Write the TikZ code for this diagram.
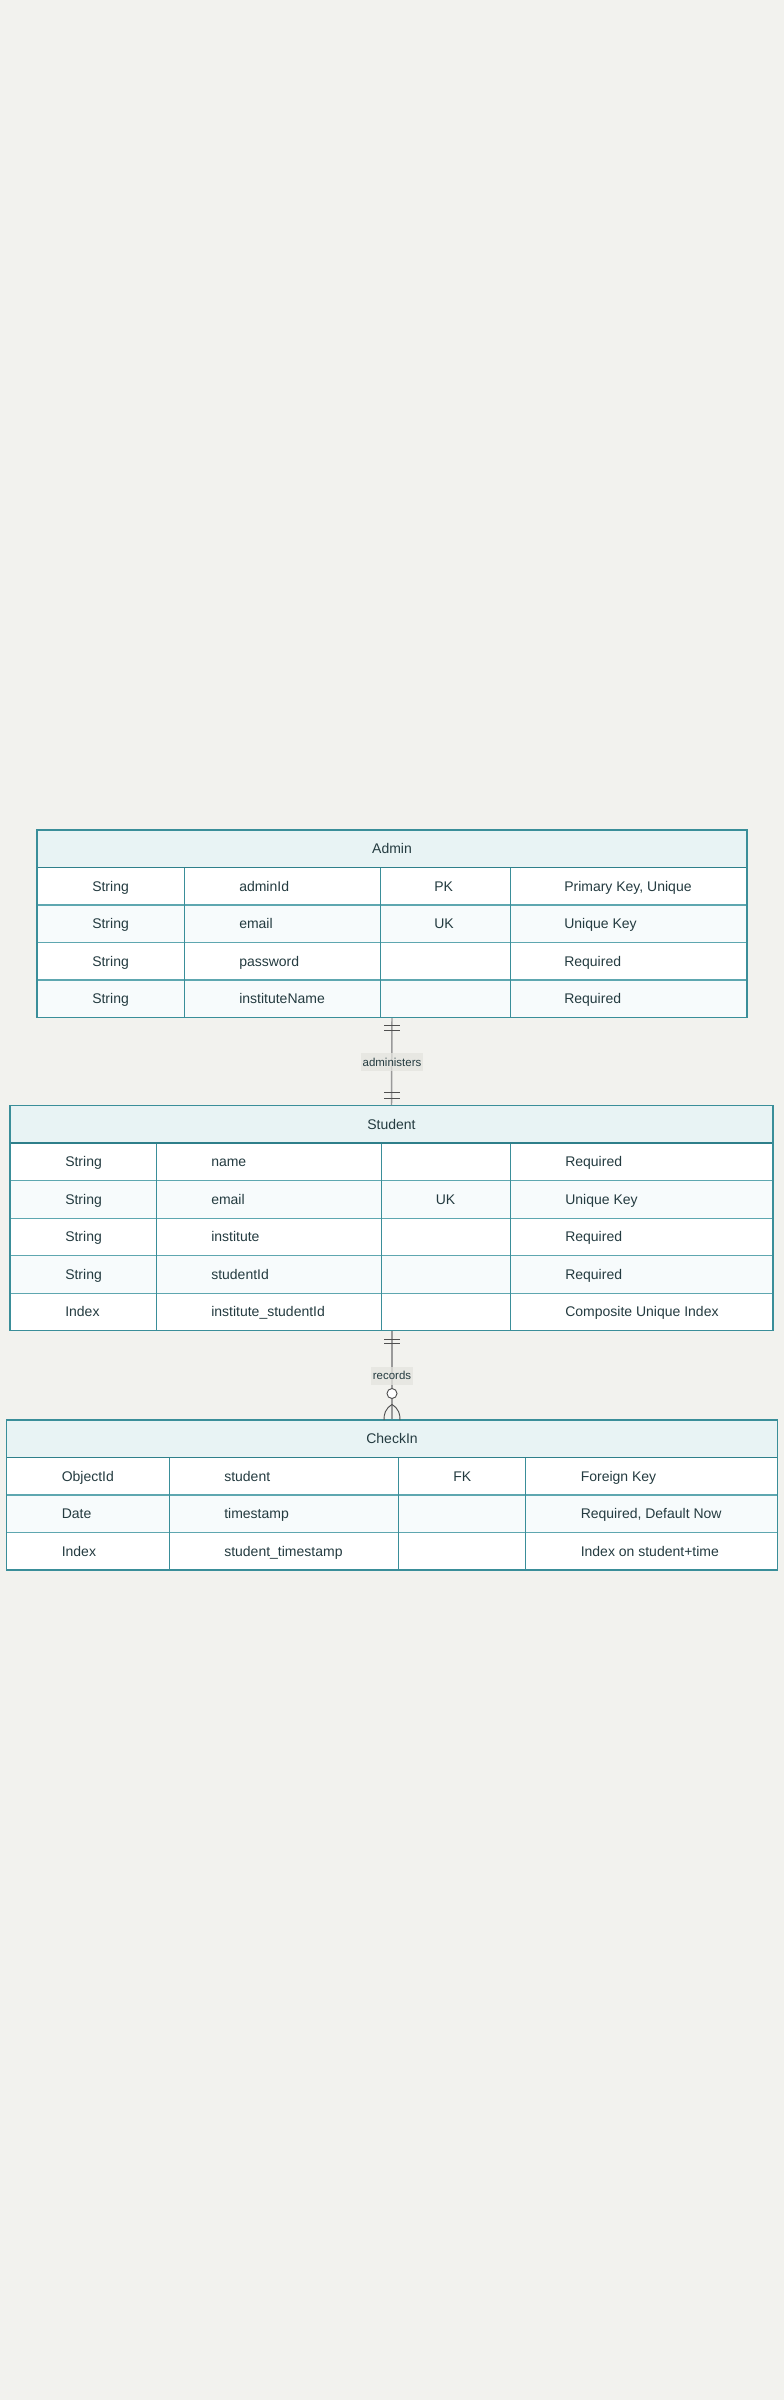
\documentclass[tikz,border=0pt]{standalone}
\usepackage{fontspec}
\setmainfont{Liberation Sans}
\usetikzlibrary{fit,calc}
\definecolor{bg}{HTML}{F2F2EE}
\definecolor{hdr}{HTML}{E8F3F4}
\definecolor{alt}{HTML}{F7FBFC}
\definecolor{edge}{HTML}{3A8E99}
\definecolor{hdredge}{HTML}{2E7F8A}
\definecolor{rowedge}{HTML}{5EA7B0}
\definecolor{txt}{HTML}{243B40}
\definecolor{conn}{HTML}{9A9A9A}
\definecolor{markc}{HTML}{505050}
\definecolor{lblbg}{HTML}{E4E4DF}
\begin{document}
\begin{tikzpicture}[x=0.75pt,y=-0.75pt,
  cell/.style={font=\fontsize{10.5pt}{12pt}\selectfont, text=txt, anchor=west, inner sep=0pt, text height=7.5pt, text depth=0pt},
  title/.style={font=\fontsize{10.5pt}{12pt}\selectfont, text=txt, anchor=center, inner sep=0pt, text height=7.5pt, text depth=0pt},
  tblbox/.style={draw=edge, line width=0.9pt, inner sep=0pt},
  hdrline/.style={draw=hdredge, line width=1.4pt},
  rowline/.style={draw=rowedge, line width=0.8pt},
  colline/.style={draw=edge, line width=0.75pt},
  connline/.style={draw=conn, line width=1.1pt},
  barmark/.style={draw=markc, line width=0.7pt},
  lbl/.style={font=\fontsize{8.6pt}{10pt}\selectfont, text=txt, fill=lblbg, fill opacity=0.75, text opacity=1, inner xsep=1.5pt, inner ysep=0pt, text height=6.2pt, text depth=0pt, minimum height=13.7pt}
]
\useasboundingbox (0,0) rectangle (784,2400);
\fill[bg] (0,0) rectangle (784,2400);

% ---------------- Admin ----------------
\fill[white] (37,830) rectangle (747,1017.5);
\fill[hdr] (37,830) rectangle (747,867.5);
\fill[alt] (37,905) rectangle (747,942.5);
\fill[alt] (37,980) rectangle (747,1017.5);
\foreach \yy in {905,942.5,980} \draw[rowline] (37,\yy) -- (747,\yy);
\foreach \xx in {184,380,510} \draw[colline] (\xx,867.5) -- (\xx,1017.5);
\draw[hdrline] (37,867.5) -- (747,867.5);
\node[tblbox, fit={(37,830)(747,1017.5)}] (admin) {};
\node[title] (admint) at (392,848.75) {Admin};
\node[cell] (a11) at (92,886.25) {String};
\node[cell] (a12) at (239,886.25) {adminId};
\node[cell] (a13) at (434,886.25) {PK};
\node[cell] (a14) at (564,886.25) {Primary Key, Unique};
\node[cell] (a21) at (92,923.75) {String};
\node[cell] (a22) at (239,923.75) {email};
\node[cell] (a23) at (434,923.75) {UK};
\node[cell] (a24) at (564,923.75) {Unique Key};
\node[cell] (a31) at (92,961.25) {String};
\node[cell] (a32) at (239,961.25) {password};
\node[cell] (a34) at (564,961.25) {Required};
\node[cell] (a41) at (92,998.75) {String};
\node[cell] (a42) at (239,998.75) {instituteName};
\node[cell] (a44) at (564,998.75) {Required};

% ---------------- Student ----------------
\fill[white] (10,1105.7) rectangle (773,1330.7);
\fill[hdr] (10,1105.7) rectangle (773,1143.2);
\fill[alt] (10,1180.7) rectangle (773,1218.2);
\fill[alt] (10,1255.7) rectangle (773,1293.2);
\foreach \yy in {1180.7,1218.2,1255.7,1293.2} \draw[rowline] (10,\yy) -- (773,\yy);
\foreach \xx in {156,381,510} \draw[colline] (\xx,1143.2) -- (\xx,1330.7);
\draw[hdrline] (10,1143.2) -- (773,1143.2);
\node[tblbox, fit={(10,1105.7)(773,1330.7)}] (student) {};
\node[title] (studentt) at (391.5,1124.45) {Student};
\node[cell] (s11) at (65,1161.95) {String};
\node[cell] (s12) at (211,1161.95) {name};
\node[cell] (s14) at (565,1161.95) {Required};
\node[cell] (s21) at (65,1199.45) {String};
\node[cell] (s22) at (211,1199.45) {email};
\node[cell] (s23) at (435.5,1199.45) {UK};
\node[cell] (s24) at (565,1199.45) {Unique Key};
\node[cell] (s31) at (65,1236.95) {String};
\node[cell] (s32) at (211,1236.95) {institute};
\node[cell] (s34) at (565,1236.95) {Required};
\node[cell] (s41) at (65,1274.45) {String};
\node[cell] (s42) at (211,1274.45) {studentId};
\node[cell] (s44) at (565,1274.45) {Required};
\node[cell] (s51) at (65,1311.95) {Index};
\node[cell] (s52) at (211,1311.95) {institute\_studentId};
\node[cell] (s54) at (565,1311.95) {Composite Unique Index};

% ---------------- CheckIn ----------------
\fill[white] (6.5,1420) rectangle (777.5,1570);
\fill[hdr] (6.5,1420) rectangle (777.5,1457.5);
\fill[alt] (6.5,1495) rectangle (777.5,1532.5);
\foreach \yy in {1495,1532.5} \draw[rowline] (6.5,\yy) -- (777.5,\yy);
\foreach \xx in {169,398,525.5} \draw[colline] (\xx,1457.5) -- (\xx,1570);
\draw[hdrline] (6.5,1457.5) -- (777.5,1457.5);
\node[tblbox, fit={(6.5,1420)(777.5,1570)}] (checkin) {};
\node[title] (checkint) at (392,1438.75) {CheckIn};
\node[cell] (c11) at (61.5,1476.25) {ObjectId};
\node[cell] (c12) at (224,1476.25) {student};
\node[cell] (c13) at (453,1476.25) {FK};
\node[cell] (c14) at (580.5,1476.25) {Foreign Key};
\node[cell] (c21) at (61.5,1513.75) {Date};
\node[cell] (c22) at (224,1513.75) {timestamp};
\node[cell] (c24) at (580.5,1513.75) {Required, Default Now};
\node[cell] (c31) at (61.5,1551.25) {Index};
\node[cell] (c32) at (224,1551.25) {student\_timestamp};
\node[cell] (c34) at (580.5,1551.25) {Index on student+time};

% ---------------- administers ----------------
\coordinate (r1a) at (392,1017.5);
\coordinate (r1b) at (392,1105.7);
\draw[connline] (admin.south) -- (student.north);
\draw[barmark] ($(r1a)+(-8,7.5)$) -- ++(16,0);
\draw[barmark] ($(r1a)+(-8,12.5)$) -- ++(16,0);
\draw[barmark] ($(r1b)+(-8,-13.5)$) -- ++(16,0);
\draw[barmark] ($(r1b)+(-8,-7.5)$) -- ++(16,0);
\node[lbl] (l1) at (392,1062) {administers};

% ---------------- records ----------------
\coordinate (r2a) at (392,1330.7);
\coordinate (r2b) at (392,1420);
\draw[connline] (r2a) -- (checkin.north);
\draw[barmark] ($(r2a)+(-8,8.5)$) -- ++(16,0);
\draw[barmark] ($(r2a)+(-8,13)$) -- ++(16,0);
\node[lbl] (l2) at (392,1375.8) {records};
\coordinate (cf) at (392,1404.5);
\draw[barmark] (cf) .. controls (385,1409) and (384,1414) .. (384,1420);
\draw[barmark] (cf) .. controls (399,1409) and (400,1414) .. (400,1420);
\node[draw=markc, line width=0.7pt, fill=white, circle, inner sep=0pt, minimum size=7.5pt] (o2) at (392,1393.5) {};
\end{tikzpicture}
\end{document}
